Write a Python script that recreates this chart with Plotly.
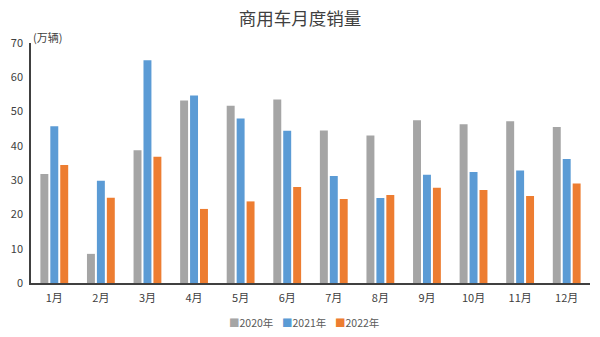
import plotly.graph_objects as go

months = ["1月", "2月", "3月", "4月", "5月", "6月", "7月", "8月", "9月", "10月", "11月", "12月"]
s2020 = [31.8, 8.5, 38.7, 53.2, 51.7, 53.5, 44.5, 43.0, 47.5, 46.3, 47.2, 45.5]
s2021 = [45.7, 29.8, 65.0, 54.7, 48.0, 44.4, 31.2, 24.8, 31.6, 32.4, 32.8, 36.2]
s2022 = [34.4, 24.9, 36.8, 21.6, 23.8, 28.0, 24.5, 25.7, 27.8, 27.1, 25.4, 29.0]
y_ticks = [0, 10, 20, 30, 40, 50, 60, 70]
series_names = ["2020年", "2021年", "2022年"]
colors = ["#a5a5a5", "#5b9bd5", "#ed7d31"]

font_cjk = "Noto Sans CJK SC"
fig = go.Figure()
for name, vals, c in zip(series_names, [s2020, s2021, s2022], colors):
    fig.add_trace(go.Bar(x=months, y=vals, name=name, marker=dict(color=c, line=dict(width=0))))

legend_x = [0.3506, 0.4454, 0.540]
annotations = [dict(text="(万辆)", xref="paper", yref="paper", x=0.0, y=1.0, xanchor="left",
                    yanchor="bottom", yshift=-4, showarrow=False, font=dict(size=11, color="#404040"))]
for name, c, lx in zip(series_names, colors, legend_x):
    annotations.append(dict(text=f'<span style="color:{c}">■</span>{name}', xref="paper", yref="paper",
                            x=lx, y=-0.1625, xanchor="left", yanchor="middle", showarrow=False,
                            font=dict(size=10.5, color="#595959")))

fig.update_layout(
    width=600, height=337,
    margin=dict(l=31, r=10, t=43, b=54),
    paper_bgcolor="white", plot_bgcolor="white",
    barmode="group", bargap=0.36, bargroupgap=0.2,
    title=dict(text="商用车月度销量", x=0.5, xanchor="center", y=0.945, yanchor="middle",
               font=dict(family=font_cjk, size=17.5, color="#404040")),
    font=dict(family=font_cjk, size=11, color="#404040"),
    showlegend=False,
    xaxis=dict(showline=True, linecolor="#404040", linewidth=1.5, ticks="", showgrid=False,
               ticklabelstandoff=4, tickfont=dict(size=11, color="#404040")),
    yaxis=dict(range=[0, 70], tickvals=y_ticks, showline=True, linecolor="#404040", linewidth=1.5,
               ticks="", showgrid=False, zeroline=False, ticklabelstandoff=4,
               tickfont=dict(size=11, color="#404040")),
    annotations=annotations,
)
fig.write_html("out.html")
